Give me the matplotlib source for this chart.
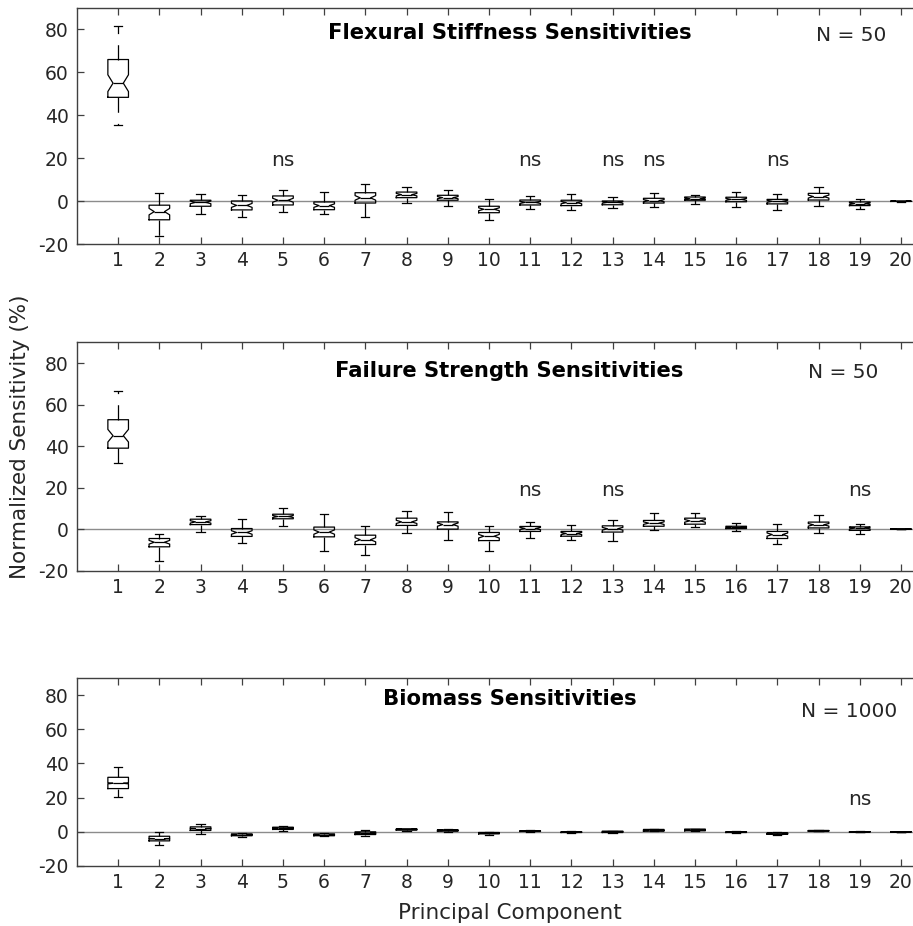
import matplotlib
matplotlib.use("Agg")
import matplotlib.pyplot as plt
import numpy as np

plt.rcParams['font.family'] = ['DejaVu Sans']
plt.rcParams['axes.unicode_minus'] = False
plt.rcParams['lines.scale_dashes'] = False

components = list(range(1, 21))
yticks = [-20, 0, 20, 40, 60, 80]

# ---- Flexural stiffness ----
fs_med = [55.0, -4.8, -0.5, -1.9, 0.5, -2.0, 1.6, 3.1, 1.7, -3.7, -0.5, -0.6, -0.5, 0.3, 1.2, 0.9, 0.0, 2.2, -1.1, 0.0]
fs_q1 = [48.4, -8.6, -2.3, -4.0, -1.7, -3.9, -0.8, 1.7, 0.5, -5.3, -1.7, -2.0, -1.6, -0.8, 0.5, -0.2, -1.2, 0.6, -2.0, -0.05]
fs_q3 = [66.0, -1.8, 0.5, 0.15, 2.5, -0.3, 4.0, 4.3, 2.8, -2.3, 0.6, 0.5, 0.15, 1.4, 2.0, 1.9, 0.9, 3.7, -0.3, 0.05]
fs_lo = [35.5, -16.0, -6.0, -7.4, -5.1, -6.0, -7.4, -0.8, -2.2, -8.8, -3.7, -4.0, -3.3, -2.5, -1.2, -2.8, -4.0, -2.2, -3.6, -0.15]
fs_hi = [81.5, 3.8, 3.3, 2.8, 5.1, 4.2, 8.2, 6.8, 5.4, 1.1, 2.6, 3.6, 1.9, 3.9, 3.1, 4.5, 3.3, 6.5, 1.2, 0.15]
fs_n = 50
fs_ns = [5, 11, 13, 14, 17]

# ---- Failure strength ----
st_med = [45.0, -6.3, 3.5, -1.6, 6.1, -1.4, -5.1, 3.5, 2.2, -3.4, 0.3, -2.1, 0.2, 2.9, 4.0, 1.0, -2.6, 2.1, 0.5, 0.0]
st_q1 = [39.0, -8.5, 2.2, -3.5, 5.0, -3.7, -7.4, 1.8, 0.0, -5.5, -1.1, -3.4, -1.4, 1.4, 2.4, 0.3, -4.5, 0.6, -0.6, -0.05]
st_q3 = [52.7, -4.5, 4.8, 0.3, 7.2, 1.0, -2.9, 5.3, 3.5, -1.6, 1.3, -1.1, 1.6, 4.2, 5.3, 1.4, -1.1, 3.4, 1.1, 0.05]
st_lo = [31.8, -15.1, -1.4, -6.7, 1.6, -10.6, -12.4, -1.8, -5.0, -10.6, -4.3, -5.3, -5.5, -0.6, 0.8, -1.1, -7.2, -1.8, -2.1, -0.15]
st_hi = [66.3, -2.1, 6.4, 4.7, 10.4, 7.1, 1.4, 8.8, 8.5, 1.3, 3.5, 1.8, 4.2, 7.6, 7.9, 2.9, 2.4, 6.9, 2.4, 0.15]
st_n = 50
st_ns = [11, 13, 19]

# ---- Biomass ----
bm_med = [28.4, -4.0, 1.9, -1.8, 2.1, -1.8, -0.8, 1.4, 0.8, -0.8, 0.4, -0.2, 0.0, 0.8, 1.0, -0.2, -1.0, 0.6, 0.0, 0.0]
bm_q1 = [25.3, -5.3, 0.8, -2.3, 1.4, -2.3, -1.6, 1.0, 0.4, -1.2, 0.2, -0.4, -0.4, 0.4, 0.6, -0.4, -1.4, 0.4, -0.2, -0.05]
bm_q3 = [31.9, -2.6, 2.9, -1.2, 2.7, -1.2, 0.0, 1.75, 1.2, -0.4, 0.6, 0.0, 0.4, 1.4, 1.6, 0.0, -0.6, 0.8, 0.1, 0.05]
bm_lo = [20.4, -7.8, -1.2, -2.9, 0.6, -2.7, -2.5, 0.6, 0.0, -1.6, 0.0, -0.6, -0.6, 0.2, 0.2, -0.6, -1.8, 0.2, -0.3, -0.15]
bm_hi = [38.0, -0.2, 4.7, -0.6, 3.3, -0.8, 0.8, 1.9, 1.4, -0.2, 0.8, 0.2, 0.6, 1.6, 1.9, 0.2, -0.2, 1.0, 0.2, 0.15]
bm_n = 1000
bm_ns = [19]

panels = [
    dict(title="Flexural Stiffness Sensitivities", med=fs_med, q1=fs_q1, q3=fs_q3, lo=fs_lo, hi=fs_hi, n=fs_n, ns=fs_ns,
         rect=[0.0843, 0.7362, 0.9251, 0.2552], ty=78.3, nx=18.79, ny=77.0, nsy=19.2),
    dict(title="Failure Strength Sensitivities", med=st_med, q1=st_q1, q3=st_q3, lo=st_lo, hi=st_hi, n=st_n, ns=st_ns,
         rect=[0.0843, 0.3837, 0.9251, 0.2467], ty=76.0, nx=18.6, ny=75.3, nsy=18.5),
    dict(title="Biomass Sensitivities", med=bm_med, q1=bm_q1, q3=bm_q3, lo=bm_lo, hi=bm_hi, n=bm_n, ns=bm_ns,
         rect=[0.0843, 0.0648, 0.9251, 0.2030], ty=77.5, nx=18.75, ny=70.2, nsy=18.7),
]

fig = plt.figure(figsize=(9.13, 9.26), dpi=100)
txtc = '#262626'
axc = '#404040'
fsz = 13.5
tsz = 15.2
lsz = 15.5
nsz = 14.5

for p in panels:
    ax = fig.add_axes(p['rect'])
    stats = []
    for i in range(len(components)):
        iqr = p['q3'][i] - p['q1'][i]
        half = 1.57 * iqr / np.sqrt(p['n'])
        stats.append(dict(med=p['med'][i], q1=p['q1'][i], q3=p['q3'][i],
                          whislo=p['lo'][i], whishi=p['hi'][i],
                          cilo=p['med'][i] - half, cihi=p['med'][i] + half,
                          fliers=[], label=str(components[i])))
    ax.axhline(0, color='#8c8c8c', lw=1.0, zorder=0)
    ax.bxp(stats, positions=components, widths=0.5, capwidths=0.2, shownotches=True,
           showfliers=False, manage_ticks=False,
           boxprops=dict(color='black', lw=0.9),
           medianprops=dict(color='black', lw=0.9),
           whiskerprops=dict(color='black', lw=0.9, linestyle=(0, (11, 8))),
           capprops=dict(color='black', lw=0.9))
    ax.set_xlim(0, 20.5)
    ax.set_ylim(-20, 90)
    ax.set_xticks(components)
    ax.set_xticklabels([str(c) for c in components])
    ax.set_yticks(yticks)
    ax.set_yticklabels([str(v) for v in yticks])
    ax.tick_params(direction='in', length=5, width=0.9, color=axc, labelcolor=txtc,
                   labelsize=fsz, top=True, right=True, pad=6)
    ax.tick_params(axis='x', pad=5)
    for s in ax.spines.values():
        s.set_color(axc)
        s.set_linewidth(1.0)
    ax.text(10.5, p['ty'], p['title'], ha='center', va='center', fontsize=tsz,
            fontweight='bold', color='black')
    ax.text(p['nx'], p['ny'], "N = %d" % p['n'], ha='center', va='center', fontsize=nsz, color=txtc)
    for k in p['ns']:
        ax.text(k, p['nsy'], "ns", ha='center', va='center', fontsize=nsz, color=txtc)

fig.text(0.022, (926 - 437) / 926, "Normalized Sensitivity (%)", rotation=90, ha='center', va='center',
         fontsize=lsz, color=txtc)
fig.text(510 / 913, 13 / 926, "Principal Component", ha='center', va='center', fontsize=lsz, color=txtc)

fig.savefig("out.png", dpi=100)
